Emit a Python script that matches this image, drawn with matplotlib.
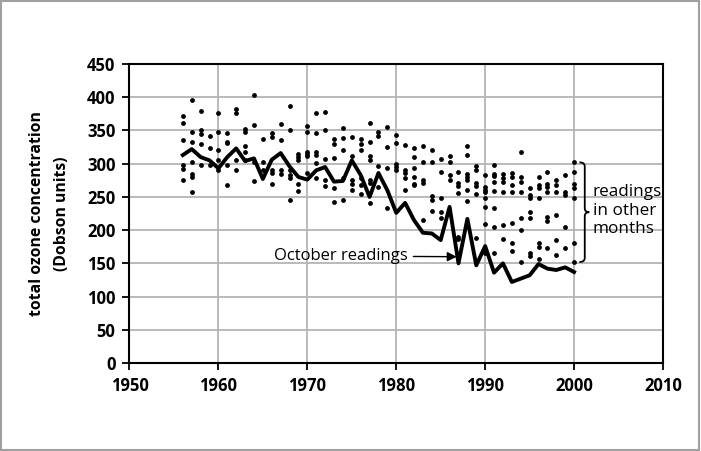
import matplotlib
matplotlib.use("Agg")
import matplotlib.pyplot as plt
from matplotlib.path import Path
from matplotlib.patches import PathPatch, Rectangle

# October readings (thick line)
years = list(range(1956, 2001))
october = [313, 322, 310, 305, 293, 310, 323, 304, 308, 277,
           306, 316, 296, 280, 276, 290, 295, 273, 274, 305,
           283, 250, 286, 260, 226, 241, 215, 196, 195, 185,
           235, 150, 217, 147, 176, 136, 150, 122, 127, 132,
           149, 142, 140, 144, 137]

# readings in the other months (dots)
other = {
    1956: [372, 361, 336, 298, 292, 276],
    1957: [396, 348, 333, 303, 284, 280, 257],
    1958: [380, 351, 344, 330, 298],
    1959: [342, 323, 298],
    1960: [377, 347, 320, 305, 291],
    1961: [346, 333, 331, 298, 268],
    1962: [382, 377, 306, 290],
    1963: [352, 348, 327, 318, 306],
    1964: [403, 358, 303, 274],
    1965: [337, 302, 290],
    1966: [346, 340, 291, 286, 270],
    1967: [359, 335, 291, 285],
    1968: [387, 351, 291, 283, 279, 245],
    1969: [315, 310, 306, 269, 259],
    1970: [357, 347, 318, 315, 311, 286],
    1971: [376, 346, 317, 313, 301, 279],
    1972: [378, 351, 307, 276, 266],
    1973: [337, 330, 308, 264, 243],
    1974: [353, 338, 321, 279, 245],
    1975: [340, 312, 275, 270, 260],
    1976: [337, 330, 320, 279, 268, 255],
    1977: [362, 333, 312, 306, 276, 271, 241],
    1978: [348, 341, 296, 265],
    1979: [355, 325, 293, 233],
    1980: [343, 331, 300, 295, 291],
    1981: [328, 291, 286, 279, 261],
    1982: [324, 310, 293, 280, 269, 268],
    1983: [327, 303, 275, 271, 216],
    1984: [321, 303, 251, 246, 229],
    1985: [307, 288, 249, 228, 218],
    1986: [311, 303, 283, 276],
    1987: [288, 271, 266, 256, 190, 186],
    1988: [326, 313, 285, 280, 275, 261, 244],
    1989: [296, 291, 271, 266, 255, 188],
    1990: [283, 265, 261, 258, 248, 235, 209, 165],
    1991: [298, 285, 281, 273, 259, 233, 204, 165],
    1992: [285, 278, 273, 257, 208, 187],
    1993: [286, 280, 268, 258, 210, 180, 168],
    1994: [318, 280, 273, 258, 218, 200, 152],
    1995: [263, 253, 248, 228, 219, 165, 161],
    1996: [280, 268, 263, 248, 180, 175, 157],
    1997: [288, 270, 265, 258, 220, 213, 173],
    1998: [275, 268, 258, 223, 185, 162],
    1999: [283, 258, 253, 205, 173],
    2000: [302, 288, 270, 263, 248, 180, 152],
}

x_ticks = list(range(1950, 2011, 10))
y_ticks = list(range(0, 451, 50))

plt.rcParams['font.family'] = ['Open Sans', 'DejaVu Sans']

fig = plt.figure(figsize=(7.01, 4.51), dpi=100)
fig.patches.append(Rectangle((0.002, 0.003), 0.995, 0.994, transform=fig.transFigure,
                             fill=False, edgecolor='#a0a0a0', linewidth=1.5))
ax = fig.add_axes([0.1847, 0.1951, 0.9458 - 0.1847, 0.858 - 0.1951])

ox = [y for y, vals in other.items() for v in vals]
oy = [v for y, vals in other.items() for v in vals]
ax.scatter(ox, oy, s=12, color='black', marker='o', linewidths=0, zorder=3)
ax.plot(years, october, color='black', linewidth=2.8, zorder=4)

ax.set_xlim(1950, 2010)
ax.set_ylim(0, 450)
ax.set_xticks(x_ticks)
ax.set_yticks(y_ticks)
for s in ax.spines.values():
    s.set_linewidth(1.5)
    s.set_color('black')
ax.tick_params(direction='out', length=5, width=1.3, labelsize=12, pad=5)
for lab in ax.get_xticklabels() + ax.get_yticklabels():
    lab.set_fontweight('bold')
ax.set_axisbelow(True)
ax.grid(True, color='#b4b4b4', linewidth=1.3)

ax.set_ylabel('total ozone concentration\n(Dobson units)', fontsize=11.3,
              fontweight='bold', labelpad=12, linespacing=1.75)

ax.annotate('October readings', xy=(1986.8, 160), xytext=(1981.3, 161),
            fontsize=12, ha='right', va='center',
            arrowprops=dict(arrowstyle='-|>', color='black', lw=1,
                            mutation_scale=14, shrinkA=2, shrinkB=0))

# curly brace around the other months
bx, bm, bt = 2000.6, 2001.2, 2001.7
top, bot = 302, 152
mid = (top + bot) / 2
verts = [(bx, top), (bm, top), (bm, top - 6),
         (bm, mid + 6), (bm, mid), (bt, mid),
         (bm, mid), (bm, mid - 6),
         (bm, bot + 6), (bm, bot), (bx, bot)]
codes = [Path.MOVETO, Path.CURVE3, Path.CURVE3,
         Path.LINETO, Path.CURVE3, Path.CURVE3,
         Path.CURVE3, Path.CURVE3,
         Path.LINETO, Path.CURVE3, Path.CURVE3]
ax.add_patch(PathPatch(Path(verts, codes), fill=False, edgecolor='black',
                       linewidth=1.3, clip_on=False, zorder=5))
ax.text(2002.1, mid + 2, 'readings\nin other\nmonths', fontsize=12.3,
        ha='left', va='center', linespacing=1.2)

fig.savefig('out.png', dpi=100)
